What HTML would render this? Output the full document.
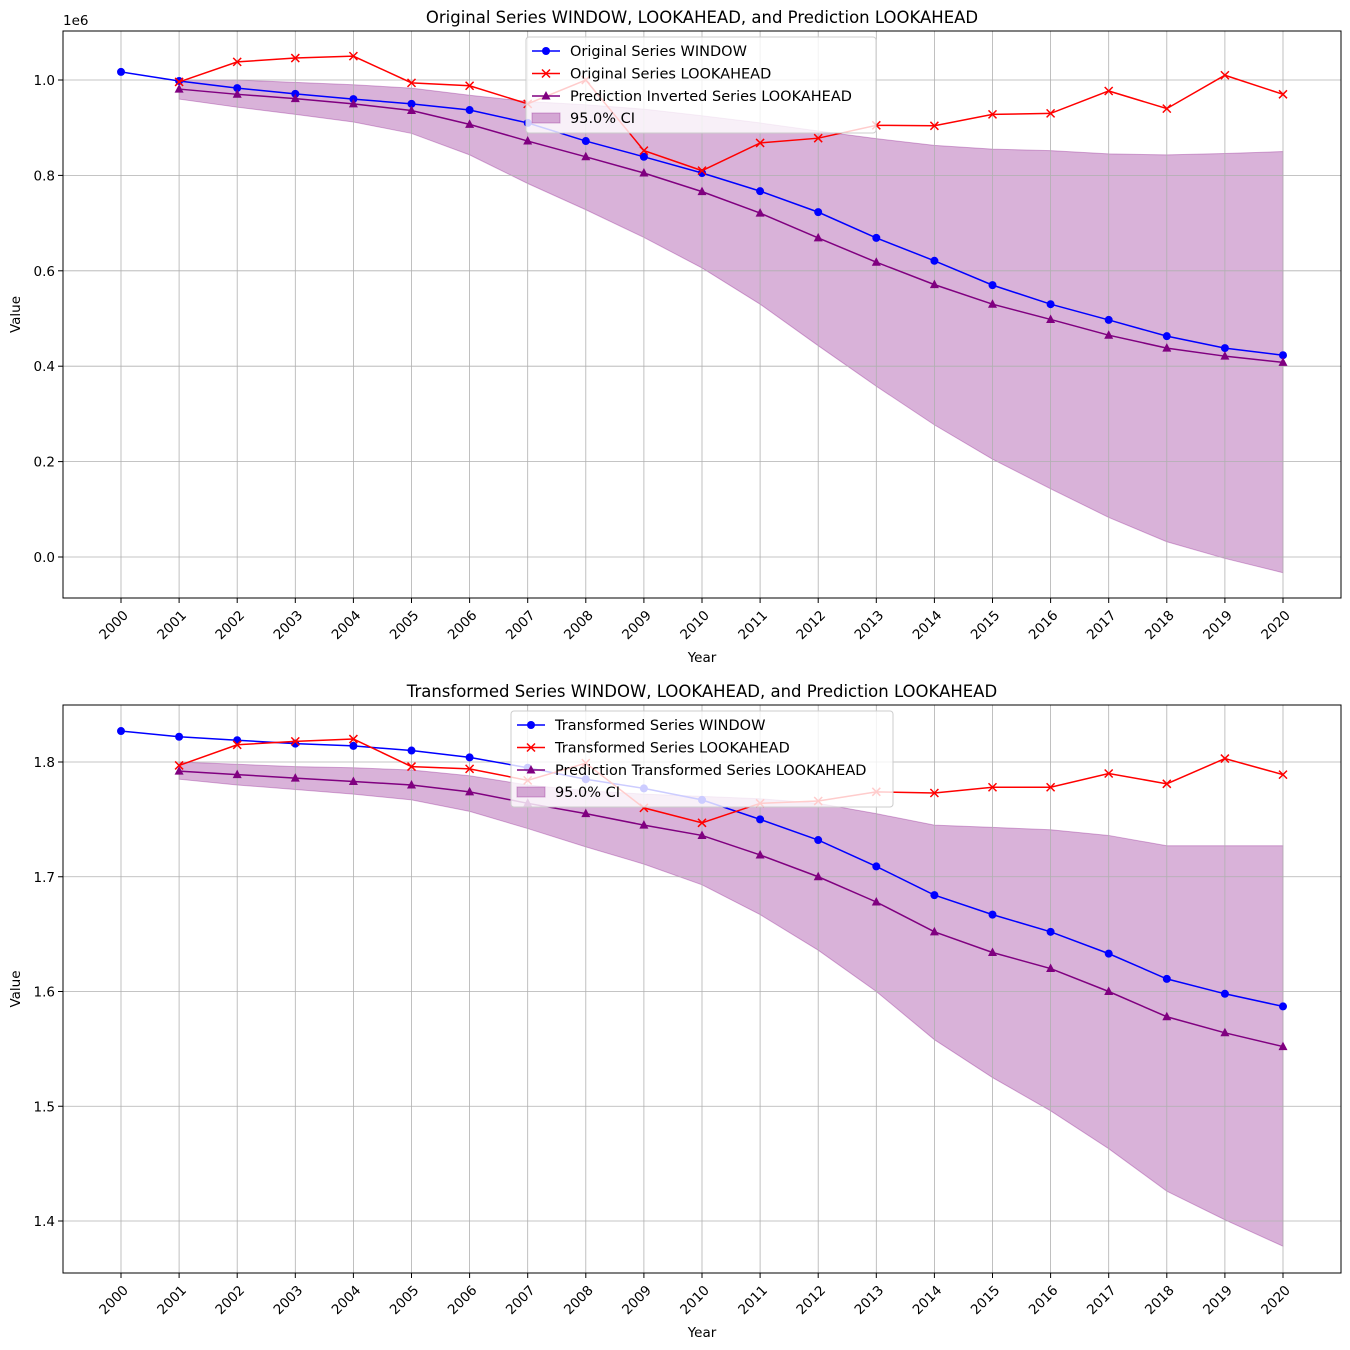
<!DOCTYPE html>
<html><head><meta charset="utf-8">
<style>
html,body{margin:0;padding:0;background:#fff;}
svg{display:block;font-family:"DejaVu Sans","Liberation Sans",sans-serif;}
</style></head>
<body>
<svg id="chart" width="1350" height="1350" viewBox="0 0 1350 1350"></svg>
<script>
const years = [2000,2001,2002,2003,2004,2005,2006,2007,2008,2009,2010,2011,2012,2013,2014,2015,2016,2017,2018,2019,2020];
const lookYears = years.slice(1);
// top panel (values in 1e6)
const origWindow = [1.017,0.998,0.983,0.971,0.960,0.950,0.937,0.910,0.872,0.839,0.805,0.767,0.723,0.669,0.621,0.570,0.530,0.497,0.463,0.438,0.423];
const origLook = [0.996,1.038,1.046,1.050,0.994,0.988,0.950,1.000,0.852,0.810,0.868,0.878,0.905,0.904,0.928,0.930,0.977,0.940,1.010,0.970];
const origPred = [0.981,0.970,0.961,0.950,0.936,0.907,0.872,0.839,0.805,0.766,0.721,0.669,0.618,0.571,0.530,0.498,0.465,0.438,0.421,0.408];
const origUpper = [1.000,1.000,0.995,0.990,0.983,0.968,0.955,0.948,0.939,0.925,0.910,0.893,0.877,0.863,0.855,0.852,0.845,0.843,0.846,0.850];
const origLower = [0.960,0.943,0.928,0.912,0.888,0.843,0.783,0.728,0.670,0.606,0.530,0.443,0.358,0.277,0.205,0.143,0.083,0.032,-0.003,-0.033];
const topTicks = [0.0,0.2,0.4,0.6,0.8,1.0];
// bottom panel
const trWindow = [1.827,1.822,1.819,1.816,1.814,1.810,1.804,1.795,1.785,1.777,1.767,1.750,1.732,1.709,1.684,1.667,1.652,1.633,1.611,1.598,1.587];
const trLook = [1.797,1.815,1.818,1.820,1.796,1.794,1.784,1.799,1.760,1.747,1.764,1.766,1.774,1.773,1.778,1.778,1.790,1.781,1.803,1.789];
const trPred = [1.792,1.789,1.786,1.783,1.780,1.774,1.764,1.755,1.745,1.736,1.719,1.700,1.678,1.652,1.634,1.620,1.600,1.578,1.564,1.552];
const trUpper = [1.800,1.798,1.796,1.795,1.793,1.788,1.780,1.775,1.772,1.770,1.768,1.764,1.755,1.745,1.743,1.741,1.736,1.727,1.727,1.727];
const trLower = [1.785,1.780,1.776,1.772,1.767,1.757,1.742,1.726,1.711,1.693,1.667,1.636,1.600,1.558,1.525,1.496,1.463,1.426,1.401,1.378];
const botTicks = [1.4,1.5,1.6,1.7,1.8];

const NS="http://www.w3.org/2000/svg";
const svg=document.getElementById('chart');
function mk(tag,attrs,parent){const e=document.createElementNS(NS,tag);for(const k in attrs)e.setAttribute(k,attrs[k]);(parent||svg).appendChild(e);return e;}
function txt(s,attrs,parent){const e=mk('text',attrs,parent);e.textContent=s;return e;}

function panel(cfg){
  const g=mk('g',{});
  
  
  const L=63,R=1341,T=cfg.top,B=cfg.bottom;
  const xs=y=>121+(y-2000)*(1283-121)/20;
  const ys=v=>cfg.y0px+(v-cfg.v0)*(cfg.y1px-cfg.y0px)/(cfg.v1-cfg.v0);
  let d='';
  lookYears.forEach((yr,i)=>{d+=(i?'L':'M')+xs(yr)+','+ys(cfg.upper[i]);});
  for(let i=lookYears.length-1;i>=0;i--)d+='L'+xs(lookYears[i])+','+ys(cfg.lower[i]);
  const ci=mk('path',{d:d+'Z',fill:'rgba(128,0,128,0.3)',stroke:'rgba(128,0,128,0.3)','stroke-width':1},g);
  
  
  years.forEach(yr=>{mk('line',{x1:xs(yr),x2:xs(yr),y1:T,y2:B,stroke:'#b0b0b0','stroke-width':0.8},g);});
  cfg.ticks.forEach(v=>{mk('line',{x1:L,x2:R,y1:ys(v),y2:ys(v),stroke:'#b0b0b0','stroke-width':0.8},g);});
  function series(xv,vals,color,marker,name){
    const sg=mk('g',{},g);
    
    
    mk('polyline',{points:xv.map((yr,i)=>xs(yr)+','+ys(vals[i])).join(' '),fill:'none',stroke:color,'stroke-width':1.5},sg);
    xv.forEach((yr,i)=>drawMarker(sg,xs(yr),ys(vals[i]),color,marker));
  }
  series(years,cfg.win,'#0000ff','o',cfg.prefix+'window-series');
  series(lookYears,cfg.look,'#ff0000','x',cfg.prefix+'lookahead-series');
  series(lookYears,cfg.pred,'#800080','^',cfg.prefix+'prediction-series');
  mk('rect',{x:L,y:T,width:R-L,height:B-T,fill:'none',stroke:'#000','stroke-width':1},g);
  years.forEach(yr=>{
    const x=xs(yr);
    mk('line',{x1:x,x2:x,y1:B,y2:B+5,stroke:'#000'},g);
    const t=txt(String(yr),{x:x+8,y:B+18,'font-size':13.5,'text-anchor':'end',transform:`rotate(-45 ${x+8} ${B+18})`},g);
    
    
  });
  cfg.ticks.forEach(v=>{
    const y=ys(v);
    mk('line',{x1:L-5,x2:L,y1:y,y2:y,stroke:'#000'},g);
    const t=txt(v.toFixed(1),{x:L-8,y:y+5,'font-size':13.5,'text-anchor':'end'},g);
    
    
  });
  const xt=txt('Year',{x:(L+R)/2,y:B+64,'font-size':13.5,'text-anchor':'middle'},g);
  
  
  const yc=(T+B)/2;
  const yt=txt('Value',{x:20,y:yc,'font-size':13.5,'text-anchor':'middle',transform:`rotate(-90 20 ${yc})`},g);
  
  
  const tt=txt(cfg.title,{x:(L+R)/2,y:T-8,'font-size':16.5,'text-anchor':'middle'},g);
  
  
  if(cfg.offset){const o=txt('1e6',{x:L,y:T-6,'font-size':13.5},g);}
  const lg=mk('g',{},g);
  
  
  const lx=cfg.legX,ly=T+6;
  mk('rect',{x:lx,y:ly,width:cfg.legW,height:96,rx:3,fill:'rgba(255,255,255,0.8)',stroke:'#ccc'},lg);
  const items=[['#0000ff','o',cfg.labels[0]],['#ff0000','x',cfg.labels[1]],['#800080','^',cfg.labels[2]]];
  items.forEach((it,i)=>{
    const y=ly+14+i*22.5;
    const e=mk('g',{},lg);
    
    
    mk('line',{x1:lx+6,x2:lx+34,y1:y,y2:y,stroke:it[0],'stroke-width':1.5},e);
    drawMarker(e,lx+20,y,it[0],it[1]);
    txt(it[2],{x:lx+44,y:y+5,'font-size':14.5},e);
  });
  const e=mk('g',{},lg);
  
  
  mk('rect',{x:lx+6,y:ly+76,width:28,height:10,fill:'rgba(128,0,128,0.3)',stroke:'rgba(128,0,128,0.3)'},e);
  txt('95.0% CI',{x:lx+44,y:ly+86,'font-size':14.5},e);
}
function drawMarker(p,x,y,c,m){
  if(m==='o')mk('circle',{cx:x,cy:y,r:4,fill:c},p);
  else if(m==='x'){mk('path',{d:`M${x-4},${y-4}L${x+4},${y+4}M${x-4},${y+4}L${x+4},${y-4}`,stroke:c,'stroke-width':1.5},p);}
  else mk('path',{d:`M${x},${y-5}L${x+4.5},${y+3.5}L${x-4.5},${y+3.5}Z`,fill:c},p);
}
panel({name:'top-panel',prefix:'original-',top:31,bottom:598,v0:0,v1:1,y0px:557,y1px:80,ticks:topTicks,
  win:origWindow,look:origLook,pred:origPred,upper:origUpper,lower:origLower,offset:true,
  title:'Original Series WINDOW, LOOKAHEAD, and Prediction LOOKAHEAD',legX:526,legW:350,
  labels:['Original Series WINDOW','Original Series LOOKAHEAD','Prediction Inverted Series LOOKAHEAD']});
panel({name:'bottom-panel',prefix:'transformed-',top:705,bottom:1273,v0:1.4,v1:1.8,y0px:1221,y1px:762,ticks:botTicks,
  win:trWindow,look:trLook,pred:trPred,upper:trUpper,lower:trLower,offset:false,
  title:'Transformed Series WINDOW, LOOKAHEAD, and Prediction LOOKAHEAD',legX:511,legW:382,
  labels:['Transformed Series WINDOW','Transformed Series LOOKAHEAD','Prediction Transformed Series LOOKAHEAD']});
</script>
</body></html>
